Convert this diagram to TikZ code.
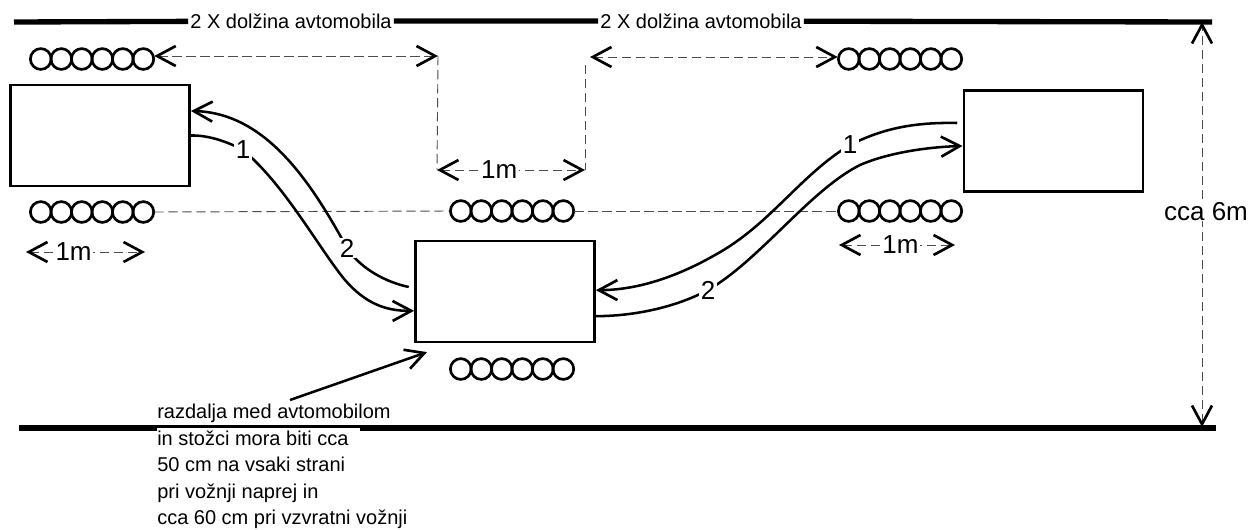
\documentclass[tikz,border=0pt]{standalone}
\usepackage{fontspec}
\setmainfont{Liberation Sans}
\usetikzlibrary{arrows.meta}
\tikzset{
  road/.style={line width=4pt},
  carbox/.style={draw,line width=1.9pt,minimum width=134.5pt,minimum height=75.5pt,inner sep=0pt},
  route/.style={line width=1.9pt},
  barb/.tip={Straight Barb[black,length=14pt,width=15pt,line width=2pt]},
  tip/.style={-barb},
  tips/.style={barb-barb},
  dim/.style={line width=.7pt,black!70,dash pattern=on 7pt off 3.5pt},
  dimtext/.style={fill=white,inner sep=1pt,text=black,font=\fontsize{19.5}{22}\selectfont},
  roadtext/.style={inner sep=1.5pt,font=\fontsize{15}{18}\selectfont},
  routeno/.style={fill=white,inner sep=1pt,font=\fontsize{19.5}{22}\selectfont},
  conebox/.style={minimum width=93pt,minimum height=16pt,inner sep=0pt},
}
\newcommand{\conerow}[3]{
  \node[conebox] (#1) at (#2,#3) {};
  \foreach \i in {0,...,5}
    \draw[line width=2pt] (#2-51.2+20.5*\i,#3) circle[radius=7.8pt];
}
\begin{document}
\begin{tikzpicture}[x=.75pt,y=-.75pt]
\useasboundingbox (0,0) rectangle (1250,529);
% roads
\coordinate (roadTL) at (14,22);
\coordinate (roadTR) at (1212,22);
\coordinate (roadBL) at (19,428);
\coordinate (roadBR) at (1216,428);
\node[roadtext] (lenA) at (291,21) {2 X dolžina avtomobila};
\node[roadtext] (lenB) at (701,21) {2 X dolžina avtomobila};
\draw[road] (roadTL)--(lenA) (lenA)--(lenB) (lenB)--(roadTR);
\draw[road] (roadBL)--(roadBR);
\fill[white] (157,428) rectangle (360,445);
% cars
\node[carbox] (carA) at (100,135.5) {};
\node[carbox] (carB) at (505,291.5) {};
\node[carbox] (carC) at (1053.5,141) {};
% cones
\conerow{coneA}{92}{59}
\conerow{coneB}{900}{59}
\conerow{coneC}{92}{212}
\conerow{coneD}{512}{211}
\conerow{coneE}{900}{211}
\conerow{coneF}{512}{369}
% dimensions
\coordinate (gapTL) at (438,56);
\coordinate (gapBL) at (437,170);
\coordinate (gapBR) at (585,170);
\coordinate (gapTR) at (590,57);
\coordinate (gapTS) at (585,65);
\coordinate (oneAL) at (26,252);
\coordinate (oneAR) at (145,252);
\coordinate (oneBL) at (839,245);
\coordinate (oneBR) at (955,245);
\draw[dim,tips] ([yshift=2.25pt]coneA.east)--(gapTL);
\draw[dim,tips] (gapTR)--([yshift=1.5pt]coneB.west);
\draw[dim] (gapTL)--(gapBL);
\draw[dim] (gapTS)--(gapBR);
\draw[dim,tips] (gapBL)--node[dimtext,pos=.42] (oneM) {1m} (gapBR);
\draw[dim] (coneC.east)--(coneD.west);
\draw[dim] (coneD.east)--(coneE.west);
\draw[dim,tips] (oneAL)--node[dimtext,pos=.40] (oneA) {1m} (oneAR);
\draw[dim,tips] (oneBL)--node[dimtext,pos=.53] (oneB) {1m} (oneBR);
\coordinate (wideT) at (1202,22);
\coordinate (wideB) at (1202,427);
\draw[dim,tips] (wideB)--(wideT);
\node[dimtext,inner sep=0pt] (wide) at (1206,212) {cca 6m};
% routes
\draw[route,tip] (carA.east) .. controls (210,135) and (230,143) .. (243,150) node[routeno] (oneL) {1}
  .. controls (285,185) and (320,250) .. (345,280) .. controls (365,303) and (385,311) .. ([yshift=-14.5pt]carB.west);
\draw[route,tip] ([xshift=-4pt,yshift=3.4pt]carB.west) .. controls (385,282) and (360,268) .. (347,248) node[routeno] (twoL) {2}
  .. controls (310,180) and (265,113) .. ([yshift=18.4pt]carA.east);
\draw[route,tip] ([xshift=-4pt,yshift=13.5pt]carC.west) .. controls (910,122) and (880,130) .. (850,145) node[routeno] (oneR) {1}
  .. controls (800,175) and (770,225) .. (715,255) .. controls (680,275) and (640,290) .. ([yshift=1pt]carB.east);
\draw[route,tip] ([yshift=-18.5pt]carB.east) .. controls (640,316) and (680,305) .. (708,290) node[routeno] (twoR) {2}
  .. controls (760,260) and (810,190) .. (860,165) .. controls (890,152) and (930,147) .. ([yshift=-3.7pt]carC.west);
% note
\node[anchor=north west,inner sep=0pt,align=left,font=\fontsize{15}{19.9}\selectfont] (note) at (157,404)
  {razdalja med avtomobilom\\in stožci mora biti cca\\50 cm na vsaki strani\\pri vožnji naprej in\\cca 60 cm pri vzvratni vožnji};
\draw[route,tip] ([xshift=99.75pt,yshift=3pt]note.north west)--([xshift=9.75pt,yshift=-6.75pt]carB.south west);
\end{tikzpicture}
\end{document}
